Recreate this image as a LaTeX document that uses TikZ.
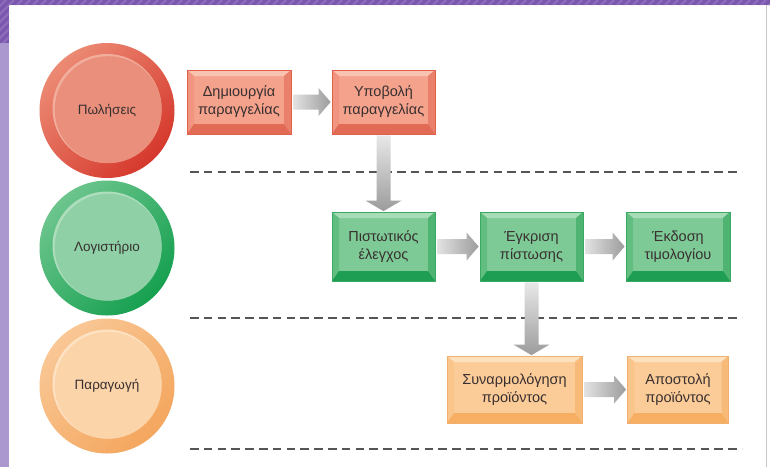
\documentclass[tikz,border=0pt]{standalone}
\usepackage{fontspec}
\setmainfont{Liberation Sans}
\usetikzlibrary{calc}
\definecolor{pdark}{HTML}{7B56AD}
\definecolor{pstripe}{HTML}{8D6CBB}
\definecolor{plight}{HTML}{AB98CF}
\definecolor{txt}{HTML}{383030}
\definecolor{dashc}{HTML}{555555}
\definecolor{arrL}{HTML}{E2E2E2}
\definecolor{arrD}{HTML}{9C9C9C}
% red
\definecolor{rOutL}{HTML}{EC8A74}
\definecolor{rOutD}{HTML}{D5382C}
\definecolor{rIn}{HTML}{E98F7B}
\definecolor{rHi}{HTML}{F2AE9C}
\definecolor{rFace}{HTML}{F4A28C}
\definecolor{rTop}{HTML}{F9C3B2}
\definecolor{rLeft}{HTML}{F19580}
\definecolor{rRight}{HTML}{E9806B}
\definecolor{rBot}{HTML}{E26B56}
\definecolor{rBord}{HTML}{E0604C}
% green
\definecolor{gOutL}{HTML}{6CC58D}
\definecolor{gOutD}{HTML}{16A050}
\definecolor{gIn}{HTML}{8FD0A6}
\definecolor{gHi}{HTML}{AEDEBD}
\definecolor{gFace}{HTML}{7ECA96}
\definecolor{gTop}{HTML}{A6DCB6}
\definecolor{gLeft}{HTML}{62BD80}
\definecolor{gRight}{HTML}{4FB472}
\definecolor{gBot}{HTML}{1E9E52}
\definecolor{gBord}{HTML}{3AAA62}
% orange
\definecolor{oOutL}{HTML}{F9C795}
\definecolor{oOutD}{HTML}{F4A65E}
\definecolor{oIn}{HTML}{FBD4AA}
\definecolor{oHi}{HTML}{FDE2C4}
\definecolor{oFace}{HTML}{FCCC98}
\definecolor{oTop}{HTML}{FDE0BE}
\definecolor{oLeft}{HTML}{FAC58A}
\definecolor{oRight}{HTML}{F8BA78}
\definecolor{oBot}{HTML}{F5AE62}
\definecolor{oBord}{HTML}{F2B070}

\tikzset{
  box/.style={rectangle, inner sep=0pt, align=center,
    font=\fontsize{14.5}{18}\selectfont, text=txt},
  bevel/.style n args={6}{fill=#1, draw=#6, line width=0.8pt,
    path picture={
      \coordinate (NW) at (path picture bounding box.north west);
      \coordinate (NE) at (path picture bounding box.north east);
      \coordinate (SW) at (path picture bounding box.south west);
      \coordinate (SE) at (path picture bounding box.south east);
      \fill[#2] (NW) -- (NE) -- ($(NE)+(-7,6)$) -- ($(NW)+(7,6)$) -- cycle;
      \fill[#3] (NW) -- ($(NW)+(7,6)$) -- ($(SW)+(7,-10)$) -- (SW) -- cycle;
      \fill[#4] (NE) -- ($(NE)+(-7,6)$) -- ($(SE)+(-7,-10)$) -- (SE) -- cycle;
      \fill[#5] (SW) -- ($(SW)+(7,-10)$) -- ($(SE)+(-7,-10)$) -- (SE) -- cycle;
    }},
  redbox/.style={box, bevel={rFace}{rTop}{rLeft}{rRight}{rBot}{rBord}},
  greenbox/.style={box, bevel={gFace}{gTop}{gLeft}{gRight}{gBot}{gBord}},
  orangebox/.style={box, bevel={oFace}{oTop}{oLeft}{oRight}{oBot}{oBord}},
  circ/.style n args={4}{circle, minimum size=135pt, inner sep=0pt,
    top color=#1, bottom color=#2, shading angle=45,
    font=\fontsize{13.5}{16}\selectfont, text=txt,
    path picture={
      \fill[#4] ($(path picture bounding box.center)+(0,-2)$) circle (54.5pt);
      \fill[#3] ($(path picture bounding box.center)+(1.2,-0.8)$) circle (53.5pt);
    }},
  sep/.style={dashc, line width=2pt, dash pattern=on 8.5pt off 5.3pt},
}

\newcommand\harrow[2]{%
  \shade[left color=arrL, right color=arrD]
    ($(#1.east)+(2,7.5)$) -- ($(#2.west)+(-13,7.5)$) -- ($(#2.west)+(-13,14)$)
    -- ($(#2.west)+(-1,0)$) -- ($(#2.west)+(-13,-14)$) -- ($(#2.west)+(-13,-7.5)$)
    -- ($(#1.east)+(2,-7.5)$) -- cycle;}
\newcommand\varrow[2]{%
  \coordinate (vt) at (#1.south |- #2.north);
  \shade[top color=arrL!80, bottom color=arrD]
    ($(#1.south)+(-7,1)$) -- ($(vt)+(-7,-11)$) -- ($(vt)+(-18,-11)$)
    -- ($(vt)+(0,-0.5)$) -- ($(vt)+(18,-11)$) -- ($(vt)+(7,-11)$)
    -- ($(#1.south)+(7,1)$) -- cycle;}

\begin{document}
\begin{tikzpicture}[x=1pt, y=-1pt]
\useasboundingbox (0,0) rectangle (770,467);
\fill[white] (0,0) rectangle (770,467);
% frame
\fill[plight] (0,43) rectangle (9,467);
\fill[pdark] (0,0) rectangle (770,5);
\fill[pdark] (0,0) rectangle (9,43);
\begin{scope}
  \clip (0,0) rectangle (770,5) (0,0) rectangle (9,43);
  \foreach \i in {-60,-52,...,780} \draw[pstripe, line width=2.2pt] (\i,50) -- (\i+50,0);
\end{scope}
\draw[black!22, line width=1.5pt] (766.5,5) -- (766.5,467);

% lanes (circles)
\node[circ={rOutL}{rOutD}{rIn}{rHi}] (sales) at (107,110.5) {Πωλήσεις};
\node[circ={gOutL}{gOutD}{gIn}{gHi}] (acct) at (107,248) {Λογιστήριο};
\node[circ={oOutL}{oOutD}{oIn}{oHi}] (prod) at (107,386) {Παραγωγή};

% dashed separators
\draw[sep] (190,172) -- (742,172);
\draw[sep] (190,318) -- (742,318);
\draw[sep] (190,449) -- (742,449);

% boxes
\node[redbox, minimum width=104pt, minimum height=64pt] (b1) at (239,102) {Δημιουργία\\παραγγελίας};
\node[redbox, minimum width=103pt, minimum height=64pt] (b2) at (383.5,102) {Υποβολή\\παραγγελίας};
\node[greenbox, minimum width=103pt, minimum height=69pt] (b3) at (383.5,246.5) {Πιστωτικός\\έλεγχος};
\node[greenbox, minimum width=103pt, minimum height=69pt] (b4) at (531.5,246.5) {Έγκριση\\πίστωσης};
\node[greenbox, minimum width=104pt, minimum height=69pt] (b5) at (678,246.5) {Έκδοση\\τιμολογίου};
\node[orangebox, minimum width=135pt, minimum height=67pt] (b6) at (514.5,389.5) {Συναρμολόγηση\\προϊόντος};
\node[orangebox, minimum width=101pt, minimum height=67pt] (b7) at (678,389.5) {Αποστολή\\προϊόντος};

% arrows
\harrow{b1}{b2}
\harrow{b3}{b4}
\harrow{b4}{b5}
\harrow{b6}{b7}
\varrow{b2}{b3}
\varrow{b4}{b6}
\end{tikzpicture}
\end{document}
